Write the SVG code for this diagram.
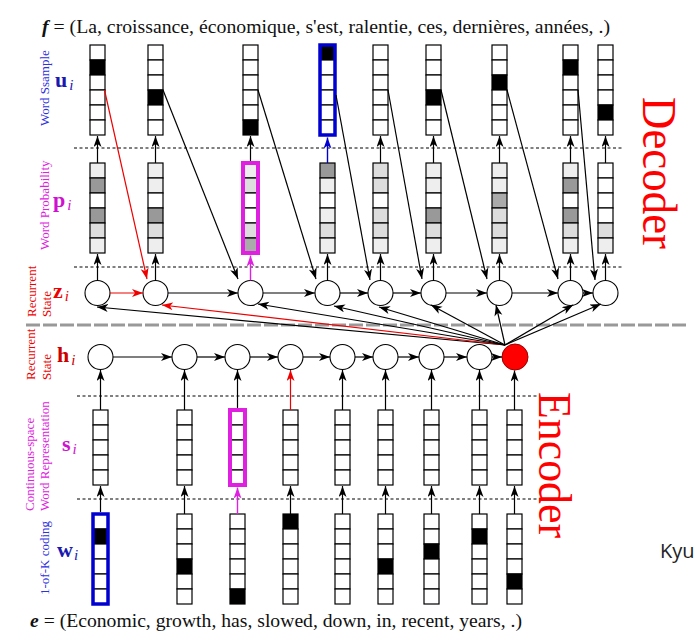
<svg xmlns="http://www.w3.org/2000/svg" width="695" height="640" viewBox="0 0 695 640">
<style>
.c{stroke:#000;stroke-width:1.2;fill:#fff}
.k{fill:#000}
.g1{fill:#999}
.g2{fill:#ddd}
.g3{fill:#eee}
.g4{fill:#aaa}
.n{stroke:#000;stroke-width:1.1;fill:#fff}
.a{stroke:#000;stroke-width:1.2;fill:none;marker-end:url(#ak)}
.ar{stroke:#e00;stroke-width:1.2;fill:none;marker-end:url(#ar)}
.am{stroke:#e020e0;stroke-width:1.4;fill:none;marker-end:url(#am)}
.ab{stroke:#0000d0;stroke-width:1.4;fill:none;marker-end:url(#ab)}
.d{stroke:#000;stroke-width:1;stroke-dasharray:3,2.5;fill:none}
.lab{font-family:"Liberation Serif",serif;font-size:13px}
.big{font-family:"Liberation Serif",serif;font-weight:bold;font-size:22px}
.sub{font-family:"Liberation Serif",serif;font-style:italic;font-weight:normal;font-size:15px}
.txt{font-family:"Liberation Serif",serif;fill:#111}
</style>
<defs>
<marker id="ak" markerUnits="userSpaceOnUse" markerWidth="12" markerHeight="9" refX="11" refY="4" orient="auto"><path d="M0,0 L11,4 L0,8 L3,4 Z" fill="#000"/></marker>
<marker id="ar" markerUnits="userSpaceOnUse" markerWidth="12" markerHeight="9" refX="11" refY="4" orient="auto"><path d="M0,0 L11,4 L0,8 L3,4 Z" fill="#e00"/></marker>
<marker id="am" markerUnits="userSpaceOnUse" markerWidth="12" markerHeight="9" refX="11" refY="4" orient="auto"><path d="M0,0 L11,4 L0,8 L3,4 Z" fill="#e020e0"/></marker>
<marker id="ab" markerUnits="userSpaceOnUse" markerWidth="12" markerHeight="9" refX="11" refY="4" orient="auto"><path d="M0,0 L11,4 L0,8 L3,4 Z" fill="#0000d0"/></marker>
</defs>

<!-- titles -->
<text class="txt" x="42" y="33" font-size="19.5" textLength="568" lengthAdjust="spacingAndGlyphs"><tspan font-weight="bold" font-style="italic">f</tspan> = (La, croissance, économique, s'est, ralentie, ces, dernières, années, .)</text>
<text class="txt" x="30" y="627" font-size="19" textLength="492" lengthAdjust="spacingAndGlyphs"><tspan font-weight="bold" font-style="italic">e</tspan> = (Economic, growth, has, slowed, down, in, recent, years, .)</text>
<text x="660" y="558" font-family="'Open Sans','Liberation Sans',sans-serif" font-size="20" fill="#222">Kyu</text>
<text transform="translate(643,97) rotate(90)" font-family="'Liberation Serif',serif" font-size="48" fill="#f00" textLength="152" lengthAdjust="spacingAndGlyphs">Decoder</text>
<text transform="translate(539,392) rotate(90)" font-family="'Liberation Serif',serif" font-size="46" fill="#f00" textLength="146" lengthAdjust="spacingAndGlyphs">Encoder</text>

<!-- left labels -->
<g id="labels">
<text class="lab" fill="#3030e0" transform="translate(49,126) rotate(-90)">Word Ssample</text>
<text class="big" fill="#1a1ab0" x="55" y="87">u<tspan class="sub" dy="3" dx="2">i</tspan></text>
<text class="lab" fill="#e020e0" transform="translate(49,250) rotate(-90)">Word Probability</text>
<text class="big" fill="#d010d0" x="53" y="207">p<tspan class="sub" dy="3" dx="2">i</tspan></text>
<text class="lab" fill="#e00" transform="translate(36,317) rotate(-90)">Recurrent</text>
<text class="lab" fill="#e00" transform="translate(51,317) rotate(-90)">State</text>
<text class="big" fill="#e00" x="53" y="298">z<tspan class="sub" dy="3" dx="2">i</tspan></text>
<text class="lab" fill="#e00" transform="translate(35,380) rotate(-90)">Recurrent</text>
<text class="lab" fill="#e00" transform="translate(51,380) rotate(-90)">State</text>
<text class="big" fill="#c00" x="57" y="362">h<tspan class="sub" dy="3" dx="2">i</tspan></text>
<text class="lab" fill="#e020e0" transform="translate(34,511) rotate(-90)">Continuous-space</text>
<text class="lab" fill="#e020e0" transform="translate(49,511) rotate(-90)">Word Representation</text>
<text class="big" fill="#d010d0" x="62" y="451">s<tspan class="sub" dy="3" dx="2">i</tspan></text>
<text class="lab" fill="#3030e0" transform="translate(49,595) rotate(-90)">1-of-K coding</text>
<text class="big" fill="#1a1ab0" x="57" y="557">w<tspan class="sub" dy="3" dx="1">i</tspan></text>
</g>

<!-- separators -->
<g id="separators">
<line class="d" x1="74" y1="148" x2="623" y2="148"/>
<line class="d" x1="74" y1="267" x2="623" y2="267"/>
<line x1="26" y1="325" x2="686" y2="325" stroke="#999" stroke-width="3" stroke-dasharray="14,3"/>
<line class="d" x1="77" y1="396" x2="537" y2="396"/>
<line class="d" x1="77" y1="499" x2="537" y2="499"/>
</g>

<!-- u columns (word sample) -->
<g id="u1"><rect class="c" x="90" y="45" width="15" height="15"/><rect class="c k" x="90" y="60" width="15" height="15"/><rect class="c" x="90" y="75" width="15" height="15"/><rect class="c" x="90" y="90" width="15" height="15"/><rect class="c" x="90" y="105" width="15" height="15"/><rect class="c" x="90" y="120" width="15" height="15"/></g>
<g id="u2"><rect class="c" x="148" y="45" width="15" height="15"/><rect class="c" x="148" y="60" width="15" height="15"/><rect class="c" x="148" y="75" width="15" height="15"/><rect class="c k" x="148" y="90" width="15" height="15"/><rect class="c" x="148" y="105" width="15" height="15"/><rect class="c" x="148" y="120" width="15" height="15"/></g>
<g id="u3"><rect class="c" x="243" y="45" width="15" height="15"/><rect class="c" x="243" y="60" width="15" height="15"/><rect class="c" x="243" y="75" width="15" height="15"/><rect class="c" x="243" y="90" width="15" height="15"/><rect class="c" x="243" y="105" width="15" height="15"/><rect class="c k" x="243" y="120" width="15" height="15"/></g>
<g id="u4"><rect class="c k" x="320" y="45" width="15" height="15"/><rect class="c" x="320" y="60" width="15" height="15"/><rect class="c" x="320" y="75" width="15" height="15"/><rect class="c" x="320" y="90" width="15" height="15"/><rect class="c" x="320" y="105" width="15" height="15"/><rect class="c" x="320" y="120" width="15" height="15"/><rect x="320" y="45" width="15" height="90" fill="none" stroke="#0000d0" stroke-width="3.5"/></g>
<g id="u5"><rect class="c" x="373" y="45" width="15" height="15"/><rect class="c" x="373" y="60" width="15" height="15"/><rect class="c" x="373" y="75" width="15" height="15"/><rect class="c" x="373" y="90" width="15" height="15"/><rect class="c" x="373" y="105" width="15" height="15"/><rect class="c" x="373" y="120" width="15" height="15"/></g>
<g id="u6"><rect class="c" x="426" y="45" width="15" height="15"/><rect class="c" x="426" y="60" width="15" height="15"/><rect class="c" x="426" y="75" width="15" height="15"/><rect class="c k" x="426" y="90" width="15" height="15"/><rect class="c" x="426" y="105" width="15" height="15"/><rect class="c" x="426" y="120" width="15" height="15"/></g>
<g id="u7"><rect class="c" x="492" y="45" width="15" height="15"/><rect class="c" x="492" y="60" width="15" height="15"/><rect class="c k" x="492" y="75" width="15" height="15"/><rect class="c" x="492" y="90" width="15" height="15"/><rect class="c" x="492" y="105" width="15" height="15"/><rect class="c" x="492" y="120" width="15" height="15"/></g>
<g id="u8"><rect class="c" x="563" y="45" width="15" height="15"/><rect class="c k" x="563" y="60" width="15" height="15"/><rect class="c" x="563" y="75" width="15" height="15"/><rect class="c" x="563" y="90" width="15" height="15"/><rect class="c" x="563" y="105" width="15" height="15"/><rect class="c" x="563" y="120" width="15" height="15"/></g>
<g id="u9"><rect class="c" x="598" y="45" width="15" height="15"/><rect class="c" x="598" y="60" width="15" height="15"/><rect class="c" x="598" y="75" width="15" height="15"/><rect class="c" x="598" y="90" width="15" height="15"/><rect class="c k" x="598" y="105" width="15" height="15"/><rect class="c" x="598" y="120" width="15" height="15"/></g>

<!-- p columns (word probability) -->
<g id="p1"><rect class="c g3" x="90" y="163" width="15" height="15"/><rect class="c g1" x="90" y="178" width="15" height="15"/><rect class="c" x="90" y="193" width="15" height="15"/><rect class="c g1" x="90" y="208" width="15" height="15"/><rect class="c g2" x="90" y="223" width="15" height="15"/><rect class="c g3" x="90" y="238" width="15" height="15"/></g>
<g id="p2"><rect class="c g3" x="148" y="163" width="15" height="15"/><rect class="c g3" x="148" y="178" width="15" height="15"/><rect class="c" x="148" y="193" width="15" height="15"/><rect class="c g1" x="148" y="208" width="15" height="15"/><rect class="c g2" x="148" y="223" width="15" height="15"/><rect class="c g3" x="148" y="238" width="15" height="15"/></g>
<g id="p3"><rect class="c g3" x="243" y="163" width="15" height="15"/><rect class="c g2" x="243" y="178" width="15" height="15"/><rect class="c" x="243" y="193" width="15" height="15"/><rect class="c" x="243" y="208" width="15" height="15"/><rect class="c g2" x="243" y="223" width="15" height="15"/><rect class="c g4" x="243" y="238" width="15" height="15"/><rect x="243" y="163" width="15" height="90" fill="none" stroke="#e020e0" stroke-width="4"/></g>
<g id="p4"><rect class="c g1" x="320" y="163" width="15" height="15"/><rect class="c g3" x="320" y="178" width="15" height="15"/><rect class="c" x="320" y="193" width="15" height="15"/><rect class="c g3" x="320" y="208" width="15" height="15"/><rect class="c g2" x="320" y="223" width="15" height="15"/><rect class="c g3" x="320" y="238" width="15" height="15"/></g>
<g id="p5"><rect class="c g2" x="373" y="163" width="15" height="15"/><rect class="c g2" x="373" y="178" width="15" height="15"/><rect class="c" x="373" y="193" width="15" height="15"/><rect class="c g2" x="373" y="208" width="15" height="15"/><rect class="c g2" x="373" y="223" width="15" height="15"/><rect class="c g3" x="373" y="238" width="15" height="15"/></g>
<g id="p6"><rect class="c g3" x="426" y="163" width="15" height="15"/><rect class="c g3" x="426" y="178" width="15" height="15"/><rect class="c" x="426" y="193" width="15" height="15"/><rect class="c g1" x="426" y="208" width="15" height="15"/><rect class="c g2" x="426" y="223" width="15" height="15"/><rect class="c g3" x="426" y="238" width="15" height="15"/></g>
<g id="p7"><rect class="c g3" x="492" y="163" width="15" height="15"/><rect class="c g3" x="492" y="178" width="15" height="15"/><rect class="c g4" x="492" y="193" width="15" height="15"/><rect class="c g2" x="492" y="208" width="15" height="15"/><rect class="c g2" x="492" y="223" width="15" height="15"/><rect class="c g3" x="492" y="238" width="15" height="15"/></g>
<g id="p8"><rect class="c g3" x="563" y="163" width="15" height="15"/><rect class="c g1" x="563" y="178" width="15" height="15"/><rect class="c" x="563" y="193" width="15" height="15"/><rect class="c g1" x="563" y="208" width="15" height="15"/><rect class="c g2" x="563" y="223" width="15" height="15"/><rect class="c g3" x="563" y="238" width="15" height="15"/></g>
<g id="p9"><rect class="c" x="598" y="163" width="15" height="15"/><rect class="c" x="598" y="178" width="15" height="15"/><rect class="c" x="598" y="193" width="15" height="15"/><rect class="c" x="598" y="208" width="15" height="15"/><rect class="c g2" x="598" y="223" width="15" height="15"/><rect class="c g3" x="598" y="238" width="15" height="15"/></g>

<!-- z circles -->
<g id="z1"><circle class="n" cx="97.5" cy="293" r="12.5"/></g>
<g id="z2"><circle class="n" cx="155.5" cy="293" r="12.5" stroke="#e00"/></g>
<g id="z3"><circle class="n" cx="250.5" cy="293" r="12.5"/></g>
<g id="z4"><circle class="n" cx="327.5" cy="293" r="12.5"/></g>
<g id="z5"><circle class="n" cx="380.5" cy="293" r="12.5"/></g>
<g id="z6"><circle class="n" cx="433.5" cy="293" r="12.5"/></g>
<g id="z7"><circle class="n" cx="499.5" cy="293" r="12.5"/></g>
<g id="z8"><circle class="n" cx="570.5" cy="293" r="12.5"/></g>
<g id="z9"><circle class="n" cx="605.5" cy="293" r="12.5"/></g>

<!-- h circles -->
<g id="h1"><circle class="n" cx="100.5" cy="357" r="12.5"/></g>
<g id="h2"><circle class="n" cx="184.5" cy="357" r="12.5"/></g>
<g id="h3"><circle class="n" cx="237.5" cy="357" r="12.5"/></g>
<g id="h4"><circle class="n" cx="290.5" cy="357" r="12.5" stroke="#e00"/></g>
<g id="h5"><circle class="n" cx="342.5" cy="357" r="12.5"/></g>
<g id="h6"><circle class="n" cx="385.5" cy="357" r="12.5"/></g>
<g id="h7"><circle class="n" cx="431.5" cy="357" r="12.5"/></g>
<g id="h8"><circle class="n" cx="479.5" cy="357" r="12.5"/></g>
<g id="h9"><circle cx="515" cy="357" r="13" fill="#f00" stroke="#900" stroke-width="1"/></g>

<!-- s columns -->
<g id="s1"><rect class="c" x="93" y="410" width="15" height="15"/><rect class="c" x="93" y="425" width="15" height="15"/><rect class="c" x="93" y="440" width="15" height="15"/><rect class="c" x="93" y="455" width="15" height="15"/><rect class="c" x="93" y="470" width="15" height="15"/></g>
<g id="s2"><rect class="c" x="177" y="410" width="15" height="15"/><rect class="c" x="177" y="425" width="15" height="15"/><rect class="c" x="177" y="440" width="15" height="15"/><rect class="c" x="177" y="455" width="15" height="15"/><rect class="c" x="177" y="470" width="15" height="15"/></g>
<g id="s3"><rect class="c" x="230" y="410" width="15" height="15"/><rect class="c" x="230" y="425" width="15" height="15"/><rect class="c" x="230" y="440" width="15" height="15"/><rect class="c" x="230" y="455" width="15" height="15"/><rect class="c" x="230" y="470" width="15" height="15"/><rect x="230" y="410" width="15" height="75" fill="none" stroke="#e020e0" stroke-width="4"/></g>
<g id="s4"><rect class="c" x="283" y="410" width="15" height="15"/><rect class="c" x="283" y="425" width="15" height="15"/><rect class="c" x="283" y="440" width="15" height="15"/><rect class="c" x="283" y="455" width="15" height="15"/><rect class="c" x="283" y="470" width="15" height="15"/></g>
<g id="s5"><rect class="c" x="335" y="410" width="15" height="15"/><rect class="c" x="335" y="425" width="15" height="15"/><rect class="c" x="335" y="440" width="15" height="15"/><rect class="c" x="335" y="455" width="15" height="15"/><rect class="c" x="335" y="470" width="15" height="15"/></g>
<g id="s6"><rect class="c" x="378" y="410" width="15" height="15"/><rect class="c" x="378" y="425" width="15" height="15"/><rect class="c" x="378" y="440" width="15" height="15"/><rect class="c" x="378" y="455" width="15" height="15"/><rect class="c" x="378" y="470" width="15" height="15"/></g>
<g id="s7"><rect class="c" x="424" y="410" width="15" height="15"/><rect class="c" x="424" y="425" width="15" height="15"/><rect class="c" x="424" y="440" width="15" height="15"/><rect class="c" x="424" y="455" width="15" height="15"/><rect class="c" x="424" y="470" width="15" height="15"/></g>
<g id="s8"><rect class="c" x="472" y="410" width="15" height="15"/><rect class="c" x="472" y="425" width="15" height="15"/><rect class="c" x="472" y="440" width="15" height="15"/><rect class="c" x="472" y="455" width="15" height="15"/><rect class="c" x="472" y="470" width="15" height="15"/></g>
<g id="s9"><rect class="c" x="507" y="410" width="15" height="15"/><rect class="c" x="507" y="425" width="15" height="15"/><rect class="c" x="507" y="440" width="15" height="15"/><rect class="c" x="507" y="455" width="15" height="15"/><rect class="c" x="507" y="470" width="15" height="15"/></g>

<!-- w columns -->
<g id="w1"><rect class="c" x="93" y="514" width="15" height="15"/><rect class="c k" x="93" y="529" width="15" height="15"/><rect class="c" x="93" y="544" width="15" height="15"/><rect class="c" x="93" y="559" width="15" height="15"/><rect class="c" x="93" y="574" width="15" height="15"/><rect class="c" x="93" y="589" width="15" height="15"/><rect x="93" y="514" width="15" height="90" fill="none" stroke="#0000d0" stroke-width="3.5"/></g>
<g id="w2"><rect class="c" x="177" y="514" width="15" height="15"/><rect class="c" x="177" y="529" width="15" height="15"/><rect class="c" x="177" y="544" width="15" height="15"/><rect class="c k" x="177" y="559" width="15" height="15"/><rect class="c" x="177" y="574" width="15" height="15"/><rect class="c" x="177" y="589" width="15" height="15"/></g>
<g id="w3"><rect class="c" x="230" y="514" width="15" height="15"/><rect class="c" x="230" y="529" width="15" height="15"/><rect class="c" x="230" y="544" width="15" height="15"/><rect class="c" x="230" y="559" width="15" height="15"/><rect class="c" x="230" y="574" width="15" height="15"/><rect class="c k" x="230" y="589" width="15" height="15"/></g>
<g id="w4"><rect class="c k" x="283" y="514" width="15" height="15"/><rect class="c" x="283" y="529" width="15" height="15"/><rect class="c" x="283" y="544" width="15" height="15"/><rect class="c" x="283" y="559" width="15" height="15"/><rect class="c" x="283" y="574" width="15" height="15"/><rect class="c" x="283" y="589" width="15" height="15"/></g>
<g id="w5"><rect class="c" x="335" y="514" width="15" height="15"/><rect class="c" x="335" y="529" width="15" height="15"/><rect class="c" x="335" y="544" width="15" height="15"/><rect class="c" x="335" y="559" width="15" height="15"/><rect class="c" x="335" y="574" width="15" height="15"/><rect class="c" x="335" y="589" width="15" height="15"/></g>
<g id="w6"><rect class="c" x="378" y="514" width="15" height="15"/><rect class="c" x="378" y="529" width="15" height="15"/><rect class="c" x="378" y="544" width="15" height="15"/><rect class="c k" x="378" y="559" width="15" height="15"/><rect class="c" x="378" y="574" width="15" height="15"/><rect class="c" x="378" y="589" width="15" height="15"/></g>
<g id="w7"><rect class="c" x="424" y="514" width="15" height="15"/><rect class="c" x="424" y="529" width="15" height="15"/><rect class="c k" x="424" y="544" width="15" height="15"/><rect class="c" x="424" y="559" width="15" height="15"/><rect class="c" x="424" y="574" width="15" height="15"/><rect class="c" x="424" y="589" width="15" height="15"/></g>
<g id="w8"><rect class="c" x="472" y="514" width="15" height="15"/><rect class="c k" x="472" y="529" width="15" height="15"/><rect class="c" x="472" y="544" width="15" height="15"/><rect class="c" x="472" y="559" width="15" height="15"/><rect class="c" x="472" y="574" width="15" height="15"/><rect class="c" x="472" y="589" width="15" height="15"/></g>
<g id="w9"><rect class="c" x="507" y="514" width="15" height="15"/><rect class="c" x="507" y="529" width="15" height="15"/><rect class="c" x="507" y="544" width="15" height="15"/><rect class="c" x="507" y="559" width="15" height="15"/><rect class="c k" x="507" y="574" width="15" height="15"/><rect class="c" x="507" y="589" width="15" height="15"/></g>

<!-- connectors -->
<g id="connectors">
<!-- p -> u -->
<line class="a" x1="97.5" y1="163" x2="97.5" y2="136"/>
<line class="a" x1="155.5" y1="163" x2="155.5" y2="136"/>
<line class="a" x1="250.5" y1="161" x2="250.5" y2="136"/>
<line class="ab" x1="327.5" y1="163" x2="327.5" y2="137.5"/>
<line class="a" x1="380.5" y1="163" x2="380.5" y2="136"/>
<line class="a" x1="433.5" y1="163" x2="433.5" y2="136"/>
<line class="a" x1="499.5" y1="163" x2="499.5" y2="136"/>
<line class="a" x1="570.5" y1="163" x2="570.5" y2="136"/>
<line class="a" x1="605.5" y1="163" x2="605.5" y2="136"/>
<!-- z -> p -->
<line class="a" x1="97.5" y1="280.5" x2="97.5" y2="254"/>
<line class="a" x1="155.5" y1="280.5" x2="155.5" y2="254"/>
<line class="am" x1="250.5" y1="280.5" x2="250.5" y2="255.5"/>
<line class="a" x1="327.5" y1="280.5" x2="327.5" y2="254"/>
<line class="a" x1="380.5" y1="280.5" x2="380.5" y2="254"/>
<line class="a" x1="433.5" y1="280.5" x2="433.5" y2="254"/>
<line class="a" x1="499.5" y1="280.5" x2="499.5" y2="254"/>
<line class="a" x1="570.5" y1="280.5" x2="570.5" y2="254"/>
<line class="a" x1="605.5" y1="280.5" x2="605.5" y2="254"/>
<!-- u -> next z -->
<line class="ar" x1="104.5" y1="90" x2="147" y2="279"/>
<line class="a" x1="163" y1="90" x2="238" y2="279"/>
<line class="a" x1="258" y1="90" x2="316" y2="279"/>
<line class="a" x1="336" y1="95" x2="370" y2="280"/>
<line class="a" x1="388" y1="90" x2="422" y2="279"/>
<line class="a" x1="441" y1="90" x2="487" y2="279"/>
<line class="a" x1="507" y1="90" x2="558" y2="279"/>
<line class="a" x1="578" y1="90" x2="595" y2="280"/>
<!-- z chain -->
<line class="ar" x1="110" y1="293" x2="143" y2="293"/>
<line class="a" x1="168" y1="293" x2="238" y2="293"/>
<line class="a" x1="263" y1="293" x2="315" y2="293"/>
<line class="a" x1="340" y1="293" x2="368" y2="293"/>
<line class="a" x1="393" y1="293" x2="421" y2="293"/>
<line class="a" x1="446" y1="293" x2="487" y2="293"/>
<line class="a" x1="512" y1="293" x2="558" y2="293"/>
<line class="a" x1="583" y1="293" x2="593" y2="293"/>
<!-- context -> z -->
<line class="a" x1="505" y1="345" x2="97" y2="307"/>
<line class="ar" x1="505" y1="345" x2="162" y2="305"/>
<line class="a" x1="505" y1="345" x2="258" y2="304"/>
<line class="a" x1="505" y1="345" x2="334" y2="306"/>
<line class="a" x1="505" y1="345" x2="379" y2="307"/>
<line class="a" x1="505" y1="345" x2="431" y2="305"/>
<line class="a" x1="505" y1="345" x2="496" y2="305"/>
<line class="a" x1="505" y1="345" x2="573" y2="305"/>
<line class="a" x1="505" y1="345" x2="601" y2="304"/>
<!-- h chain -->
<line class="a" x1="113" y1="357" x2="172" y2="357"/>
<line class="a" x1="197" y1="357" x2="225" y2="357"/>
<line class="a" x1="250" y1="357" x2="278" y2="357"/>
<line class="a" x1="303" y1="357" x2="330" y2="357"/>
<line class="a" x1="355" y1="357" x2="373" y2="357"/>
<line class="a" x1="398" y1="357" x2="419" y2="357"/>
<line class="a" x1="444" y1="357" x2="467" y2="357"/>
<line class="a" x1="492" y1="357" x2="502" y2="357"/>
<!-- s -> h -->
<line class="a" x1="100.5" y1="410" x2="100.5" y2="370"/>
<line class="a" x1="184.5" y1="410" x2="184.5" y2="370"/>
<line class="a" x1="237.5" y1="408" x2="237.5" y2="370"/>
<line class="ar" x1="290.5" y1="410" x2="290.5" y2="370"/>
<line class="a" x1="342.5" y1="410" x2="342.5" y2="370"/>
<line class="a" x1="385.5" y1="410" x2="385.5" y2="370"/>
<line class="a" x1="431.5" y1="410" x2="431.5" y2="370"/>
<line class="a" x1="479.5" y1="410" x2="479.5" y2="370"/>
<line class="a" x1="514.5" y1="410" x2="514.5" y2="370.5"/>
<!-- w -> s -->
<line class="a" x1="100.5" y1="512" x2="100.5" y2="486"/>
<line class="a" x1="184.5" y1="514" x2="184.5" y2="486"/>
<line class="am" x1="237.5" y1="514" x2="237.5" y2="487.5"/>
<line class="a" x1="290.5" y1="514" x2="290.5" y2="486"/>
<line class="a" x1="342.5" y1="514" x2="342.5" y2="486"/>
<line class="a" x1="385.5" y1="514" x2="385.5" y2="486"/>
<line class="a" x1="431.5" y1="514" x2="431.5" y2="486"/>
<line class="a" x1="479.5" y1="514" x2="479.5" y2="486"/>
<line class="a" x1="514.5" y1="514" x2="514.5" y2="486"/>
</g>
</svg>
